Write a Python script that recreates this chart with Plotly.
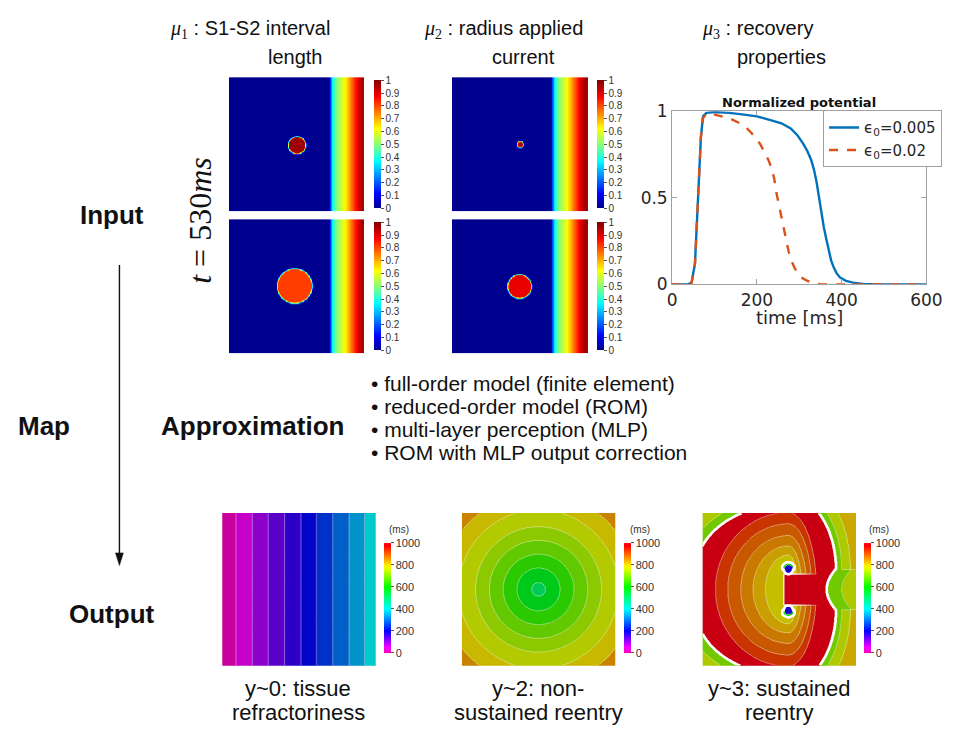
import colorsys
import numpy as np
import plotly.graph_objects as go

W, H = 960, 739


def xp(x):
    return x / W


def yp(y):
    return 1 - y / H


# ---------------- action potential (normalized) ----------------
ap_t_005 = [0, 38, 46, 54, 59, 64, 68, 73, 81, 100, 135, 170, 200, 230, 258, 280, 296,
            310, 319, 328, 335, 341, 346, 352, 358, 364, 369, 375, 381, 388, 396, 410,
            427, 450, 500, 600]
ap_v_005 = [0, 0, 0.01, 0.12, 0.38, 0.67, 0.85, 0.97, 0.99, 0.995, 0.99, 0.98, 0.97,
            0.95, 0.93, 0.9, 0.86, 0.81, 0.77, 0.72, 0.66, 0.59, 0.51, 0.42, 0.33, 0.26,
            0.2, 0.14, 0.1, 0.065, 0.04, 0.02, 0.01, 0.003, 0, 0]
ap_t_002 = [0, 38, 46, 54, 59, 64, 68, 73, 81, 100, 135, 160, 173, 185, 196, 208, 219,
            227, 235, 241, 246, 252, 258, 264, 269, 275, 281, 288, 296, 308, 319, 335,
            350, 600]
ap_v_002 = [0, 0, 0.01, 0.12, 0.38, 0.67, 0.85, 0.96, 0.985, 0.98, 0.96, 0.93, 0.91,
            0.88, 0.85, 0.81, 0.76, 0.72, 0.67, 0.61, 0.53, 0.46, 0.38, 0.31, 0.25,
            0.19, 0.14, 0.1, 0.066, 0.035, 0.02, 0.008, 0, 0]
time_ticks = [0, 200, 400, 600]
potential_ticks = [0, 0.5, 1]

# ---------------- input snapshots at t = 530 ms ----------------
front_u = [0.0, 0.735, 0.75, 0.765, 0.79, 0.835, 0.88, 0.93, 0.975, 1.0]
front_level = [0, 0, 0.18, 0.36, 0.48, 0.57, 0.68, 0.83, 0.95, 0.97]
snap_front_shift = [0.0, 0.0, -0.012, -0.012]
snap_stim_u = [0.502, 0.485, 0.50, 0.495]
snap_stim_v = [0.505, 0.496, 0.50, 0.50]
snap_stim_r = [0.065, 0.13, 0.024, 0.089]
snap_stim_level = [0.97, 0.81, 0.95, 0.89]
snap_ticks = [0, 0.1, 0.2, 0.3, 0.4, 0.5, 0.6, 0.7, 0.8, 0.9, 1]
snap_tick_text = ["0", "0.1", "0.2", "0.3", "0.4", "0.5", "0.6", "0.7", "0.8", "0.9", "1"]

# ---------------- output maps (ms) ----------------
ms_ticks = [0, 200, 400, 600, 800, 1000]
strip_edges = [0.091, 0.195, 0.301, 0.407, 0.513, 0.614, 0.72, 0.826, 0.928]
strip_ms = [12, 50, 92, 130, 165, 205, 250, 295, 345, 400]
ring_edges = [0.045, 0.14, 0.23, 0.32, 0.41, 0.52, 0.63]
ring_ms = [510, 575, 640, 690, 730, 765, 800, 850]
arc_edges = [0.15, 0.23, 0.31, 0.395, 0.475]
arc_ms = [790, 825, 860, 890, 925, 992]
outer_edges = [1.12, 1.3]
outer_ms = [705, 760, 815]
core_ms = [180, 600]
core_u = 0.56
core_v = [0.37, 0.635]
arc_focus = 0.168

# ---------------- layout boxes (pixels) ----------------
snap_boxes = [(229, 367, 69, 207), (229, 367, 215, 353),
              (457, 596, 69, 207), (457, 596, 215, 353)]
snap_cbar_x = [377, 377, 605, 605]
out_boxes = [(222, 379, 517, 674), (467, 624, 517, 674), (713, 870, 517, 674)]
out_cbar_x = [387, 633, 878]
ap_box = (682, 942, 104, 282)

jet = [[0.0, "rgb(0,0,143)"], [0.11, "rgb(0,0,255)"], [0.365, "rgb(0,255,255)"],
       [0.49, "rgb(128,255,128)"], [0.62, "rgb(255,255,0)"], [0.87, "rgb(255,0,0)"],
       [1.0, "rgb(128,0,0)"]]


def hue_scale(value):
    stops = []
    for f in np.linspace(0, 1, 41):
        h = np.interp(f, [0, 0.2, 0.4, 0.6, 0.8, 1.0], [318, 240, 180, 120, 55, -8])
        r, g, b = colorsys.hsv_to_rgb((h % 360) / 360.0, 1.0, value)
        stops.append([float(f), "rgb(%d,%d,%d)" % (r * 255, g * 255, b * 255)])
    return stops


bright_scale = hue_scale(1.0)
map_scale = hue_scale(0.79)

fig = go.Figure()
layout_axes = {}


def add_axes(k, box, image=True):
    x0, x1, y0, y1 = box
    xa = dict(domain=[xp(x0), xp(x1)], anchor="y%d" % k)
    ya = dict(domain=[yp(y1), yp(y0)], anchor="x%d" % k)
    if image:
        xa.update(range=[0, 1], visible=False, fixedrange=True)
        ya.update(range=[1, 0], visible=False, fixedrange=True)
    layout_axes["xaxis%d" % k] = xa
    layout_axes["yaxis%d" % k] = ya
    return "x%d" % k, "y%d" % k


# ---------- input snapshots ----------
N = 220
g = (np.arange(N) + 0.5) / N
U, V = np.meshgrid(g, g)
for i, box in enumerate(snap_boxes):
    xa, ya = add_axes(i + 1, box)
    field = np.interp(U - snap_front_shift[i], front_u, front_level)
    dist = np.hypot(U - snap_stim_u[i], V - snap_stim_v[i])
    stim = snap_stim_level[i] * np.clip((snap_stim_r[i] - dist) / 0.014 + 0.5, 0, 1)
    field = np.maximum(field, stim)
    cy = (box[2] + box[3]) / 2
    fig.add_trace(go.Heatmap(
        x=g, y=g, z=field, xaxis=xa, yaxis=ya, colorscale=jet, zmin=0, zmax=1,
        zsmooth="best", hoverinfo="skip", showlegend=False,
        colorbar=dict(x=xp(snap_cbar_x[i]), xanchor="left", xpad=0, ypad=0,
                      y=yp(cy), yanchor="middle", lenmode="pixels", len=128,
                      thickness=7, outlinewidth=0, tickvals=snap_ticks,
                      ticktext=snap_tick_text, ticks="outside", ticklen=3,
                      tickcolor="#555", tickfont=dict(size=10, color="#333",
                                                      family="Liberation Sans"))))

# ---------- action potential chart ----------
xa, ya = add_axes(5, ap_box, image=False)
fig.add_trace(go.Scatter(x=ap_t_005, y=ap_v_005, xaxis=xa, yaxis=ya, mode="lines",
                         line=dict(color="#0072BD", width=2.4),
                         name="\u03f5<sub>0</sub>=0.005"))
fig.add_trace(go.Scatter(x=ap_t_002, y=ap_v_002, xaxis=xa, yaxis=ya, mode="lines",
                         line=dict(color="#D95319", width=2.4, dash="dash"),
                         name="\u03f5<sub>0</sub>=0.02"))
tick_font = dict(family="DejaVu Sans", size=17, color="#262626")
layout_axes["xaxis5"].update(range=[0, 600], tickvals=time_ticks, ticks="inside",
                             ticklen=5, tickcolor="#a0a0a0", showline=True,
                             mirror="ticks", linecolor="#a0a0a0", showgrid=False,
                             zeroline=False, tickfont=tick_font)
layout_axes["yaxis5"].update(range=[0, 1], tickvals=potential_ticks,
                             ticktext=["0", "0.5", "1"], ticks="inside", ticklen=5,
                             tickcolor="#a0a0a0", showline=True, mirror="ticks",
                             linecolor="#a0a0a0", showgrid=False, zeroline=False,
                             tickfont=tick_font)

# ---------- output maps ----------
M = 300
gm = (np.arange(M) + 0.5) / M
UM, VM = np.meshgrid(gm, gm)


def refractory_map():
    idx = np.searchsorted(strip_edges, UM)
    return np.array(strip_ms)[idx], idx.astype(float), None


def nonsustained_map():
    r = np.hypot(UM - 0.5, VM - 0.5)
    idx = np.searchsorted(ring_edges, r)
    return np.array(ring_ms)[idx], idx.astype(float), None


def sustained_map():
    c1, c2 = core_v
    left = UM <= core_u
    between = (VM > c1) & (VM < c2)
    # C-shaped wavefronts: confocal ellipses around the common pathway,
    # squeezed on the right where they curl around the two cores
    dx = np.where(left, core_u - UM, 2.6 * (UM - core_u))
    r1 = np.hypot(dx, VM - (0.5 - arc_focus))
    r2 = np.hypot(dx, VM - (0.5 + arc_focus))
    a = 0.5 * (r1 + r2)
    d = np.sqrt(np.maximum(a ** 2 - arc_focus ** 2, 0))
    idx = np.searchsorted(arc_edges, d)
    middle = (UM > 0.53) & (VM > c1 + 0.03) & (VM < c2 - 0.03)
    idx = np.where(middle, len(arc_ms) - 1, idx)
    # extent of the re-entrant wave (wrap boundary)
    dyc = np.maximum(np.maximum(c1 - VM, VM - c2), 0)
    m_left = np.hypot(core_u - UM, 1.4 * dyc) / 0.6
    m_right = np.hypot((UM - core_u) / 0.31, dyc / 0.48)
    m_mid = UM / (0.81 + 0.06 * ((VM - 0.5) / 0.135) ** 2)
    m = np.where(left, m_left, np.where(between, m_mid, m_right))
    outside = m >= 1
    out_idx = len(arc_ms) + np.searchsorted(outer_edges, m)
    idx = np.where(outside, out_idx, idx)
    # phase singularities
    inside = (~outside).astype(float)
    for k, cv in enumerate(core_v):
        dc = np.hypot(UM - core_u, VM - cv)
        outer_side = (VM < cv) if k == 0 else (VM > cv)
        green = (dc < 0.047) & outer_side & (np.abs(UM - core_u) < 0.04)
        blue = dc < 0.03
        idx = np.where(green, len(arc_ms) + 4, idx)
        idx = np.where(blue, len(arc_ms) + 3, idx)
        inside = np.where(green | blue, 0.0, inside)
    all_ms = np.array(arc_ms + outer_ms + core_ms)
    return all_ms[idx], idx.astype(float), inside


for j, (box, maker) in enumerate(zip(out_boxes, [refractory_map, nonsustained_map,
                                                  sustained_map])):
    xa, ya = add_axes(6 + j, box)
    z_ms, z_idx, wrap = maker()
    fig.add_trace(go.Heatmap(x=gm, y=gm, z=z_ms, xaxis=xa, yaxis=ya,
                             colorscale=map_scale, zmin=0, zmax=1000, zsmooth=False,
                             showscale=False, hoverinfo="skip", showlegend=False))
    fig.add_trace(go.Contour(x=gm, y=gm, z=z_idx, xaxis=xa, yaxis=ya,
                             contours=dict(start=0.5, end=20.5, size=1, coloring="none"),
                             line=dict(color="rgba(255,255,255,0.55)", width=0.8),
                             showscale=False, hoverinfo="skip", showlegend=False))
    if wrap is not None:
        fig.add_trace(go.Contour(x=gm, y=gm, z=wrap, xaxis=xa, yaxis=ya,
                                 contours=dict(start=0.5, end=0.5, size=1,
                                               coloring="none"),
                                 line=dict(color="white", width=2.6),
                                 showscale=False, hoverinfo="skip", showlegend=False))
    fig.add_trace(go.Scatter(
        x=[0.5], y=[0.5], xaxis=xa, yaxis=ya, mode="markers", showlegend=False,
        hoverinfo="skip",
        marker=dict(size=1, opacity=0, color=[0], cmin=0, cmax=1000,
                    colorscale=bright_scale, showscale=True,
                    colorbar=dict(x=xp(out_cbar_x[j]), xanchor="left", xpad=0, ypad=0,
                                  y=yp(604), yanchor="middle", lenmode="pixels",
                                  len=110, thickness=7, outlinewidth=0,
                                  tickvals=ms_ticks, ticks="outside", ticklen=3,
                                  tickcolor="#555",
                                  tickfont=dict(size=11, color="#333",
                                                family="Liberation Sans")))))

# ---------- text ----------
sans = "Liberation Sans"
serif = "Liberation Serif"
ann = []


def text(x, y, s, size, family=sans, anchor="center", color="#111", angle=0):
    ann.append(dict(x=xp(x), y=yp(y), xref="paper", yref="paper", text=s,
                    showarrow=False, xanchor=anchor, yanchor="middle",
                    textangle=angle, font=dict(family=family, size=size, color=color)))


mu = '<span style="font-family:Liberation Serif"><i>\u03bc</i><sub>%d</sub></span>'
text(250, 20, mu % 1 + " : S1-S2 interval", 20)
text(297, 48, "length", 20)
text(510, 20, mu % 2 + " : radius applied", 20)
text(530, 48, "current", 20)
text(769, 20, mu % 3 + " : recovery", 20)
text(794, 48, "properties", 20)
text(200, 216, "<i>t</i> = 530<i>ms</i>", 32, family=serif, angle=-90)

text(109, 211, "<b>Input</b>", 26)
text(40, 428, "<b>Map</b>", 26)
text(253, 428, "<b>Approximation</b>", 26)
text(109, 621, "<b>Output</b>", 26)

bullets = ["full-order model (finite element)", "reduced-order model (ROM)",
           "multi-layer perception (MLP)", "ROM with MLP output correction"]
for k, line in enumerate(bullets):
    text(372, 384 + 23.5 * k, "\u2022 " + line, 21, anchor="left")

text(300, 697, "y~0: tissue", 22)
text(300, 722, "refractoriness", 22)
text(545, 697, "y~2: non-", 22)
text(545, 722, "sustained reentry", 22)
text(791, 697, "y~3: sustained", 22)
text(791, 722, "reentry", 22)

for cx in out_cbar_x:
    text(cx + 16, 534, "(ms)", 10, color="#333")

text(812, 95, "<b>Normalized potential</b>", 13, family="DejaVu Sans", color="#111")
text(812, 316, "time [ms]", 18, family="DejaVu Sans", color="#262626")

# Input -> Output arrow
shapes = [
    dict(type="line", xref="paper", yref="paper", x0=xp(117), x1=xp(117),
         y0=yp(262), y1=yp(560), line=dict(color="#111", width=1.4)),
    dict(type="path", xref="paper", yref="paper",
         path="M %f %f L %f %f L %f %f Z" % (xp(113), yp(558), xp(121), yp(558),
                                             xp(117), yp(571)),
         fillcolor="#111", line=dict(color="#111", width=0.5)),
]

fig.update_layout(
    width=W, height=H, margin=dict(l=0, r=0, t=0, b=0),
    paper_bgcolor="white", plot_bgcolor="white",
    annotations=ann, shapes=shapes,
    legend=dict(x=xp(958), xanchor="right", y=yp(103), yanchor="top",
                bgcolor="white", bordercolor="#a0a0a0", borderwidth=1,
                font=dict(family="DejaVu Sans", size=15, color="#262626"),
                itemwidth=30, tracegroupgap=0),
    **layout_axes,
)
fig.write_html("out.html")
